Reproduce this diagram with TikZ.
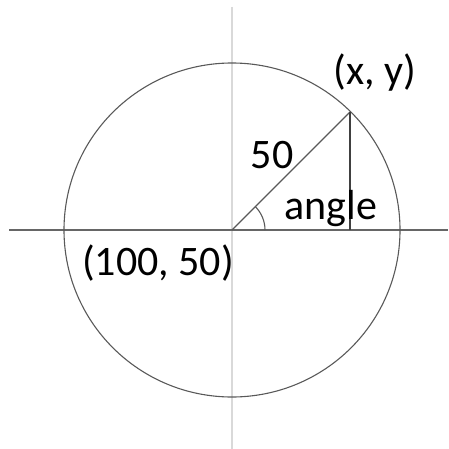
\documentclass[tikz,border=0pt]{standalone}
\usepackage{fontspec}
\setmainfont{Carlito}
\begin{document}
\begin{tikzpicture}[x=1pt,y=-1pt,
  lbl/.style={inner sep=0pt, anchor=base, font=\fontsize{42}{46}\selectfont, text=black},
  axisv/.style={draw=black!15, line width=1.8pt},
  axish/.style={draw=black!60, line width=1.2pt},
  thin/.style={draw=black!65, line width=1.1pt}]
\useasboundingbox (0,0) rectangle (448,449);
\coordinate (O) at (232,230);
\coordinate (P) at (350,112);
\coordinate (F) at (350,230);
\coordinate (vt) at (232,7);
\coordinate (vb) at (232,449);
\coordinate (hl) at (9,230);
\coordinate (hr) at (448,230);
\draw[axisv] (vt) -- (vb);
\draw[axish] (hl) -- (hr);
\draw[thin] (O) circle[x radius=168, y radius=167];
\draw[thin] (O) -- (P);
\draw[thin, draw=black!75] (P) -- (F);
\draw[thin] (265,230) arc[start angle=0, end angle=-45, radius=33];
\node[lbl] (xy) at (375,85) {(x, y)};
\node[lbl] (r) at (272,168) {50};
\node[lbl] (ang) at (331,219) {angle};
\node[lbl] (c) at (158,275) {(100, 50)};
\end{tikzpicture}
\end{document}
